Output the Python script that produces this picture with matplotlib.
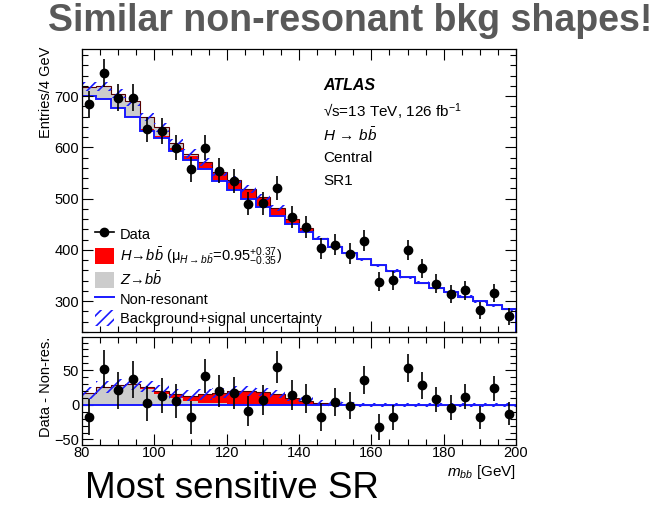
import numpy as np
import matplotlib
matplotlib.use("Agg")
import matplotlib.pyplot as plt
from matplotlib.lines import Line2D
from matplotlib.patches import Patch
from matplotlib.ticker import MultipleLocator

plt.rcParams['font.family'] = ['Liberation Sans', 'DejaVu Sans']
plt.rcParams['mathtext.fontset'] = 'custom'
plt.rcParams['mathtext.rm'] = 'Liberation Sans'
plt.rcParams['mathtext.it'] = 'Liberation Sans:italic'
plt.rcParams['mathtext.bf'] = 'Liberation Sans:bold'
plt.rcParams['hatch.linewidth'] = 1.2

# m_bb binning: 4 GeV bins from 80 to 200 GeV
edges = np.arange(80, 204, 4)
centers = edges[:-1] + 2

data = np.array([684, 746, 697, 697, 635, 632, 599, 557, 599, 555,
                 534, 490, 491, 521, 465, 445, 403, 410, 393, 418,
                 338, 341, 400, 364, 334, 314, 321, 282, 316, 271])
nonres = np.array([701, 694, 676, 660, 633, 619, 593, 575, 557, 535,
                   517, 499, 484, 466, 451, 436, 421, 406, 394, 382,
                   370, 359, 347, 336, 326, 318, 309, 300, 292, 284])
zbb = np.array([17, 25, 28, 28, 23, 16, 10, 5, 3, 2,
                1, 0.5, 0.3, 0.2, 0.1, 0, 0, 0, 0, 0,
                0, 0, 0, 0, 0, 0, 0, 0, 0, 0])
hbb = np.array([0.2, 0.5, 1, 2, 3, 4, 5.5, 8, 12, 15,
                19, 19.5, 18.5, 15, 10, 6, 3, 1.5, 0.7, 0.3,
                0.1, 0, 0, 0, 0, 0, 0, 0, 0, 0])
unc = np.array([9, 9, 9, 9, 8, 8, 8, 8, 8, 7,
                7, 7, 6, 6, 5, 5, 4, 4, 3, 3,
                3, 3, 3, 3, 3, 3, 3, 3, 3, 3])
err = np.sqrt(data)

W, H = 662, 508
fig = plt.figure(figsize=(W / 100, H / 100), dpi=100)
ax = fig.add_axes([82 / W, 1 - 332 / H, 434 / W, 283 / H])
rax = fig.add_axes([82 / W, 1 - 445 / H, 434 / W, 108 / H], sharex=ax)

red = '#ff0000'
grey = '#cccccc'
blue = '#1a1aff'

# main panel: non-resonant + H + Z stack
sig_top = nonres + hbb
tot = sig_top + zbb
ax.stairs(sig_top, edges, baseline=nonres, fill=True, color=red, lw=0)
ax.stairs(tot, edges, baseline=sig_top, fill=True, color=grey, lw=0)
ax.stairs(tot, edges, color='#550000', lw=0.8)
ax.stairs(tot + unc, edges, baseline=tot - unc, fill=True, facecolor='none',
          edgecolor=blue, hatch='///', lw=0)
ax.stairs(nonres, edges, color=blue, lw=1.4)
ax.errorbar(centers, data, yerr=err, fmt='o', color='k', ms=6, elinewidth=1.2, capsize=0)

# ratio panel: data minus non-resonant
resid = data - nonres
rtot = zbb + hbb
rax.stairs(zbb, edges, baseline=0, fill=True, color=grey, lw=0)
rax.stairs(rtot, edges, baseline=zbb, fill=True, color=red, lw=0)
rax.stairs(rtot, edges, color='#550000', lw=0.8)
rax.stairs(rtot + unc, edges, baseline=rtot - unc, fill=True, facecolor='none',
           edgecolor=blue, hatch='///', lw=0)
rax.axhline(0, color=blue, lw=1.4)
rax.errorbar(centers, resid, yerr=err, fmt='o', color='k', ms=6, elinewidth=1.2, capsize=0)

ax.set_xlim(80, 200)
ax.set_ylim(240, 792)
rax.set_ylim(-58, 98)

for a in (ax, rax):
    a.xaxis.set_major_locator(MultipleLocator(20))
    a.xaxis.set_minor_locator(MultipleLocator(5))
    a.tick_params(which='both', direction='in', top=True, right=True, width=0.8,
                  labelsize=10.5, pad=2)
    a.tick_params(which='major', length=8)
    a.tick_params(which='minor', length=4)
    for s in a.spines.values():
        s.set_linewidth(0.9)
ax.yaxis.set_major_locator(MultipleLocator(100))
ax.yaxis.set_minor_locator(MultipleLocator(20))
rax.yaxis.set_major_locator(MultipleLocator(50))
rax.yaxis.set_minor_locator(MultipleLocator(10))
ax.tick_params(labelbottom=False)
rax.tick_params(axis='x', pad=1)

fig.text(46 / W, 1 - 47 / H, 'Entries/4 GeV', rotation=90, ha='center', va='top', fontsize=10.5)
fig.text(46 / W, 1 - 337 / H, 'Data - Non-res.', rotation=90, ha='center', va='top', fontsize=10.5)
fig.text(516 / W, 1 - 472 / H, r'$m_{bb}$ [GeV]', ha='right', va='center', fontsize=11)

# labels inside the main panel
tx = (323 - 82) / 434
ax.text(tx, (332 - 86) / 283, 'ATLAS', transform=ax.transAxes, fontsize=11.5,
        fontweight='bold', fontstyle='italic', va='center')
ax.text(tx, (332 - 112) / 283, '√s=13 TeV, 126 fb$^{-1}$', transform=ax.transAxes,
        fontsize=11, va='center')
ax.text(tx, (332 - 135) / 283, r'$H\,\rightarrow\,b\bar{b}$', transform=ax.transAxes,
        fontsize=11, va='center')
ax.text(tx, (332 - 158) / 283, 'Central', transform=ax.transAxes, fontsize=11, va='center')
ax.text(tx, (332 - 181) / 283, 'SR1', transform=ax.transAxes, fontsize=11, va='center')

handles = [
    Line2D([], [], color='k', marker='o', ms=6, lw=1.2),
    Patch(facecolor=red, edgecolor='none'),
    Patch(facecolor=grey, edgecolor='none'),
    Line2D([], [], color=blue, lw=1.4),
    Patch(facecolor='none', edgecolor=blue, hatch='///', lw=0),
]
labels = [
    'Data',
    r'$H\!\rightarrow\!b\bar{b}$ (μ$_{H\rightarrow b\bar{b}}$=0.95$^{+0.37}_{-0.35}$)',
    r'$Z\!\rightarrow\!b\bar{b}$',
    'Non-resonant',
    'Background+signal uncertainty',
]
ax.legend(handles, labels, loc='upper left', bbox_to_anchor=(0.03, 0.375),
          frameon=False, fontsize=10.5, handlelength=1.3, handleheight=1.3,
          handletextpad=0.4, labelspacing=0.22, borderpad=0, borderaxespad=0)

fig.text(350 / W, 1 - 21 / H, 'Similar non-resonant bkg shapes!', ha='center', va='center',
         fontsize=27, fontweight='bold', color='#595959')
fig.text(85 / W, 1 - 489 / H, 'Most sensitive SR', ha='left', va='center', fontsize=26.5)

fig.savefig('out.png', dpi=100)
